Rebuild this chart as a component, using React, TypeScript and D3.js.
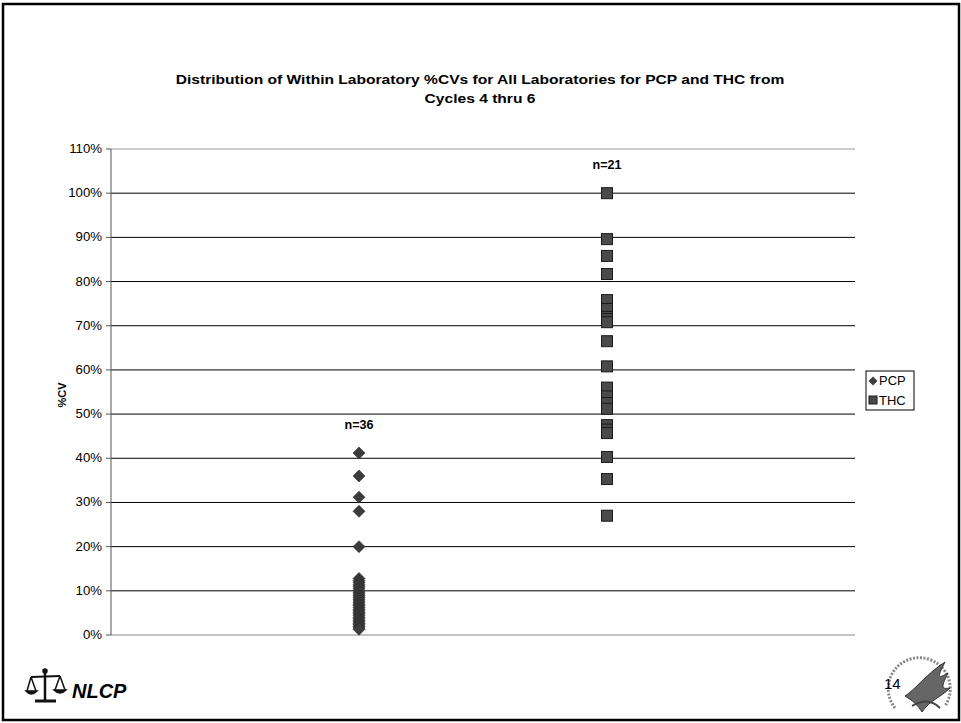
import React from "react";
import * as d3 from "d3";

const categories = ["PCP", "THC"];
const pcpValues = [41.2, 36.0, 31.2, 28.0, 20.0, 12.8, 12.3, 11.9, 11.4, 11.0, 10.6, 10.1, 9.7, 9.3, 8.9, 8.5, 8.1, 7.7, 7.3, 6.9, 6.6, 6.2, 5.8, 5.5, 5.1, 4.8, 4.4, 4.0, 3.7, 3.3, 3.0, 2.6, 2.3, 1.9, 1.6, 1.3];
const thcValues = [100, 89.6, 85.8, 81.7, 75.8, 73.8, 72.0, 71.5, 70.8, 66.5, 60.8, 56.0, 54.0, 52.5, 51.2, 47.5, 46.5, 45.7, 40.3, 35.3, 27.0];
const yTicks = [0, 10, 20, 30, 40, 50, 60, 70, 80, 90, 100, 110];
const counts = ["n=36", "n=21"];
const titleLines = [
  "Distribution of Within Laboratory %CVs for All Laboratories for PCP and THC from",
  "Cycles 4 thru 6",
];

const FONT = "'Liberation Sans', Arial, sans-serif";

const diamondPath = (r: number) => `M0,${-r}L${r},0L0,${r}L${-r},0Z`;

function SText(props: { x: number; y: number; sx: number; anchor?: string; size: number; bold?: boolean; children: React.ReactNode }) {
  return (
    <g transform={`translate(${props.x},${props.y}) scale(${props.sx},1)`}>
      <text x={0} y={0} textAnchor={props.anchor || "start"} fontSize={props.size} fontWeight={props.bold ? "bold" : "normal"} fill="#000">
        {props.children}
      </text>
    </g>
  );
}

export default function App() {
  const W = 961, H = 723;
  const left = 111, right = 855, top = 149, bottom = 635;
  const x = d3.scaleLinear().domain([0, 3]).range([left, right]);
  const y = d3.scaleLinear().domain([0, 110]).range([bottom, top]);
  const series = [pcpValues, thcValues];

  return (
    <svg width={W} height={H} style={{ position: "absolute", left: 0, top: 0, fontFamily: FONT }}>
      <rect x={0} y={0} width={W} height={H} fill="#fff" />
      <rect x={3} y={4} width={956} height={716} fill="none" stroke="#000" strokeWidth={2.5} />
      {titleLines.map((t, i) => (
        <SText key={i} x={480} y={84 + i * 19} sx={1.2} anchor="middle" size={13} bold>{t}</SText>
      ))}
      {yTicks.map((v) => (
        <line key={"g" + v} x1={left} x2={right} y1={y(v)} y2={y(v)} stroke={v === 0 ? "#888" : v === 110 ? "#999" : "#000"} strokeWidth={1} />
      ))}
      <line x1={left} x2={left} y1={top} y2={bottom} stroke="#555" strokeWidth={1} />
      {yTicks.map((v) => (
        <g key={"t" + v}>
          <line x1={left - 5} x2={left} y1={y(v)} y2={y(v)} stroke="#555" />
          <SText x={102} y={y(v) + 4} sx={1.1} anchor="end" size={12}>{v + "%"}</SText>
        </g>
      ))}
      <text transform={`translate(66,${(top + bottom) / 2 + 3}) rotate(-90)`} textAnchor="middle" fontSize={11} fontWeight="bold" fill="#000">%CV</text>
      {series[0].map((v, i) => (
        <path key={"p" + i} d={diamondPath(6)} transform={`translate(${x(1)},${y(v)})`} fill="#3c3c3c" stroke="#2a2a2a" strokeWidth={0.6} />
      ))}
      {series[1].map((v, i) => (
        <rect key={"s" + i} x={x(2) - 5.5} y={y(v) - 5.5} width={11} height={11} fill="#4a4a4a" stroke="#1a1a1a" strokeWidth={1} />
      ))}
      {counts.map((c, i) => {
        const maxV = d3.max(series[i]) as number;
        return (
          <SText key={c} x={x(i + 1)} y={y(maxV) - 24} sx={1.05} anchor="middle" size={12} bold>{c}</SText>
        );
      })}
      <rect x={866} y={371} width={48} height={39} fill="#fff" stroke="#000" strokeWidth={1} />
      <path d={diamondPath(4.5)} transform="translate(873,381)" fill="#3c3c3c" />
      <SText x={879} y={385} sx={1.08} size={12}>{categories[0]}</SText>
      <rect x={869} y={396} width={8} height={8} fill="#4a4a4a" stroke="#1a1a1a" />
      <SText x={879} y={405} sx={1.08} size={12}>{categories[1]}</SText>
      <g stroke="#111" fill="none" strokeWidth={1.5}>
        <line x1={45} y1={672} x2={45} y2={700} strokeWidth={2.5} />
        <line x1={31} y1={677} x2={60} y2={676} strokeWidth={1.8} />
        <line x1={35} y1={701} x2={56} y2={701} strokeWidth={3} />
        <path d="M31,677 L27,691 M31,677 L36,691" />
        <path d="M26,691 Q31,697 37,691 Z" fill="#111" />
        <path d="M60,676 L55,690 M60,676 L65,690" />
        <path d="M54,690 Q60,696 66,690 Z" fill="#111" />
        <circle cx={45} cy={671} r={2} fill="#111" />
      </g>
      <text x={72} y={698} fontSize={20} fontWeight="bold" fontStyle="italic" fill="#000">NLCP</text>
      <g>
        <path d="M895,708 A31,31 0 1 1 945,706" fill="none" stroke="#888" strokeWidth={3} strokeDasharray="2 1.5" />
        <text x={884} y={689} fontSize={15} fill="#000">14</text>
        <path d="M905,696 C915,690 925,675 945,662 C938,676 936,680 948,673 C942,685 940,690 950,688 C940,698 930,700 922,712 C918,705 912,700 905,696 Z" fill="#666" stroke="#333" strokeWidth={1} />
        <path d="M912,706 C922,700 932,700 940,708" fill="none" stroke="#444" strokeWidth={2} />
      </g>
    </svg>
  );
}
